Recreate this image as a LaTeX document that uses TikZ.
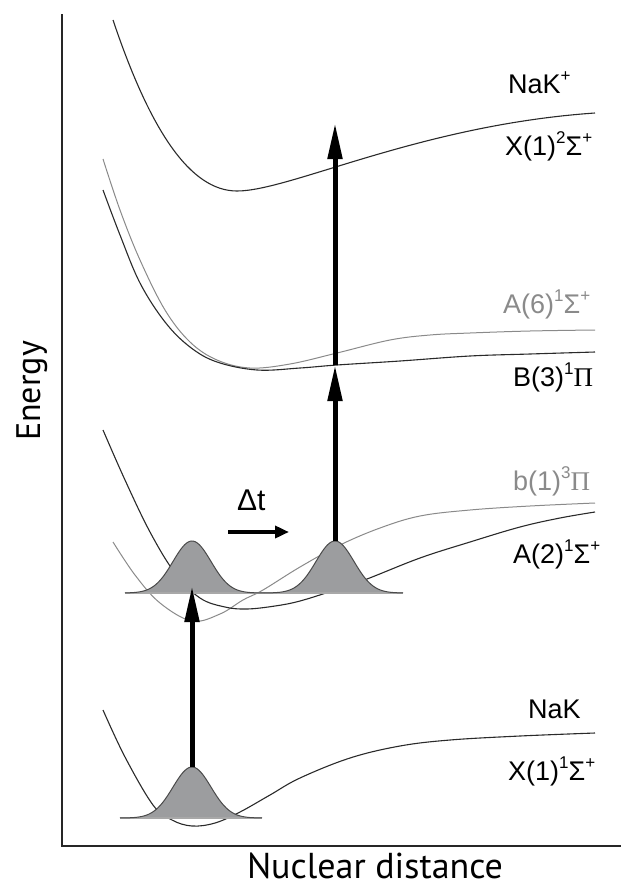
\documentclass[tikz,border=0pt]{standalone}
\usepackage{fontspec}
\setmainfont{Liberation Sans}
\newfontfamily\axisfont{PT Sans}
\newfontfamily\serifgk{Liberation Serif}
\usetikzlibrary{arrows.meta}
\newcommand{\SupT}[1]{\raisebox{0.42em}{\fontsize{17}{17}\selectfont #1}}
\newcommand{\PiG}{{\serifgk Π}}
\definecolor{darkcurve}{HTML}{2A2A2A}
\definecolor{lightcurve}{HTML}{8A8A8A}
\definecolor{packfill}{HTML}{9C9D9F}
\definecolor{packline}{HTML}{4A4A4A}
\definecolor{baseline}{HTML}{A8A8A8}
\tikzset{
  axis/.style={line width=1.4pt, color=black!85},
  darkpot/.style={line width=1.1pt, color=darkcurve},
  lightpot/.style={line width=1.0pt, color=lightcurve},
  pkfill/.style={fill=packfill},
  pkline/.style={line width=1.0pt, color=packline},
  pkbase/.style={line width=1.2pt, color=baseline},
  excite/.style={line width=5pt, -{Triangle[length=36pt,width=14pt]}},
  delay/.style={line width=4pt, -{Triangle[length=14pt,width=12pt]}},
  lbl/.style={font=\fontsize{27}{30}\selectfont, inner sep=0pt, anchor=base west},
  glbl/.style={lbl, text=lightcurve},
  axlbl/.style={font=\axisfont\fontsize{36}{38}\selectfont, inner sep=0pt},
}
\begin{document}
\begin{tikzpicture}[x=1pt,y=-1pt]
\useasboundingbox (0,0) rectangle (621,889);
% axes
\coordinate (ytop) at (62,14);
\coordinate (origin) at (62,846);
\coordinate (xend) at (621,846);
\draw[axis] (ytop) -- (origin) -- (xend);
\node[axlbl, rotate=90, font=\axisfont\fontsize{34}{36}\selectfont] (elabel) at (32,391) {Energy};
\node[axlbl, anchor=base] (xlabel) at (375,878) {Nuclear distance};

% potential curves
% NaK X(1)1Sigma+
\draw[darkpot] plot[smooth,tension=0.6] coordinates {(103,710) (125,757) (153,805) (172,820) (192,826) (215,823) (240,812) (270,795) (300,778) (350,758) (400,746) (450,740) (520,736) (595,733)};
% b(1)3Pi
\draw[lightpot] plot[smooth,tension=0.6] coordinates {(113,542) (135,575) (160,603) (192,621) (220,614) (243,600) (263,590) (300,567) (340,545) (380,528) (420,516) (470,510) (530,506) (595,503)};
% A(2)1Sigma+
\draw[darkpot] plot[smooth,tension=0.6] coordinates {(103,430) (125,480) (150,532) (175,573) (200,598) (225,607) (247,609) (275,606) (300,601) (335,590) (367,579) (420,558) (470,542) (520,527) (560,518) (595,512)};
% A(6)1Sigma+
\draw[lightpot] plot[smooth,tension=0.6] coordinates {(103,159) (120,210) (140,260) (165,310) (190,342) (217,360) (250,368) (290,364) (337,353) (390,340) (430,335) (470,333) (530,331) (595,330)};
% B(3)1Pi
\draw[darkpot] plot[smooth,tension=0.6] coordinates {(103,190) (120,235) (140,283) (165,322) (190,347) (217,362) (257,370) (300,368) (337,365) (400,361) (470,356) (530,354) (595,352)};
% NaK+ X(1)2Sigma+
\draw[darkpot] (113,20) .. controls (150,130) and (190,191) .. (237,191)
                        .. controls (290,191) and (420,125) .. (595,113);

% wave packets
\fill[pkfill] plot[domain=130:254,samples=60] (\x,{818-51*exp(-0.5*((\x-192)/19)^2)}) -- cycle;
\draw[pkbase] (120,818) -- (262,818);
\draw[pkline] plot[domain=120:262,samples=80] (\x,{818-51*exp(-0.5*((\x-192)/19)^2)});

\fill[pkfill] plot[domain=130:254,samples=60] (\x,{593-52*exp(-0.5*((\x-192)/19)^2)}) -- cycle;
\fill[pkfill] plot[domain=273:397,samples=60] (\x,{593-52*exp(-0.5*((\x-335)/19)^2)}) -- cycle;
\draw[pkbase] (125,593) -- (403,593);
\draw[pkline] plot[domain=125:264,samples=80] (\x,{593-52*exp(-0.5*((\x-192)/19)^2)});
\draw[pkline] plot[domain=264:403,samples=80] (\x,{593-52*exp(-0.5*((\x-335)/19)^2)});

% excitation arrows
\coordinate (g0) at (192,767);
\coordinate (g1) at (192,586);
\coordinate (e0) at (335,541);
\coordinate (e1) at (335,365);
\coordinate (e2) at (335,123);
\draw[excite] (g0) -- (g1);
\draw[excite] (e0) -- (e1);
\draw[excite] (e1) -- (e2);

% delay arrow
\coordinate (d0) at (228,532);
\coordinate (d1) at (289,532);
\draw[delay] (d0) -- (d1);
\node[font=\fontsize{30}{32}\selectfont, inner sep=0pt, anchor=base west] (dt) at (237,510) {Δt};

% labels
\node[lbl] (nakp) at (508,93) {NaK\SupT{+}};
\node[lbl] (xion) at (505,155) {X(1)\SupT{2}Σ\SupT{+}};
\node[glbl] (a6) at (503,313) {A(6)\SupT{1}Σ\SupT{+}};
\node[lbl] (b3) at (513,386) {B(3)\SupT{1}\PiG};
\node[glbl] (b1) at (513,490) {b(1)\SupT{3}\PiG};
\node[lbl] (a2) at (513,563) {A(2)\SupT{1}Σ\SupT{+}};
\node[lbl] (nak) at (528,718) {NaK};
\node[lbl] (x1) at (508,780) {X(1)\SupT{1}Σ\SupT{+}};
\end{tikzpicture}
\end{document}
